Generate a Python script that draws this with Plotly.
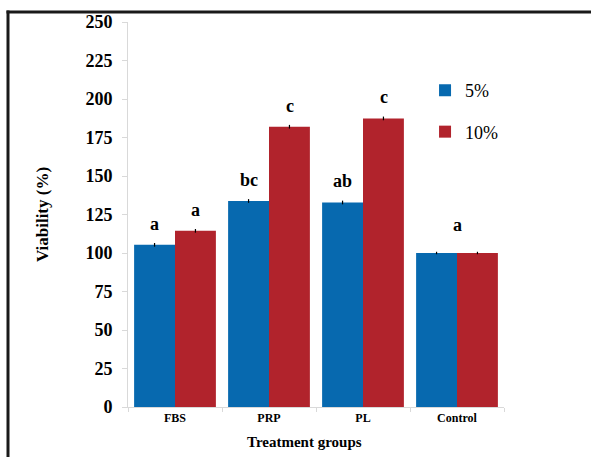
import plotly.graph_objects as go

# Viability of cells cultured with different supplements
groups = ["FBS", "PRP", "PL", "Control"]
viability_5 = [105.3, 133.8, 132.8, 100.0]
viability_10 = [114.4, 182.0, 187.4, 100.0]
err_5 = [1.2, 1.2, 1.2, 0.8]
err_10 = [1.2, 1.2, 1.2, 0.8]
letters_5 = ["a", "bc", "ab", ""]
letters_10 = ["a", "c", "c", ""]
control_letter = "a"
y_ticks = [0, 25, 50, 75, 100, 125, 150, 175, 200, 225, 250]

BLUE = "#0769AF"
RED = "#B1232C"
SERIF = "Liberation Serif"

fig = go.Figure()
fig.add_trace(go.Bar(
    x=groups, y=viability_5, name="5%", legendgroup="g5",
    marker=dict(color=BLUE, line=dict(width=0)),
    error_y=dict(type="data", array=err_5, color="black", thickness=1.2, width=0),
))
fig.add_trace(go.Bar(
    x=groups, y=viability_10, name="10%", legendgroup="g10",
    marker=dict(color=RED, line=dict(width=0)),
    error_y=dict(type="data", array=err_10, color="black", thickness=1.2, width=0),
))

letter_font = dict(family=SERIF, size=18, color="black", weight="bold")

# significance letters above each bar
annotations = []
offset_px = 20.5
for g, v, lab in zip(groups, viability_5, letters_5):
    if lab:
        annotations.append(dict(x=g, y=v, text=lab, xshift=-offset_px, yshift=9,
                                showarrow=False, yanchor="bottom", font=letter_font))
for g, v, lab in zip(groups, viability_10, letters_10):
    if lab:
        annotations.append(dict(x=g, y=v, text=lab, xshift=offset_px, yshift=9,
                                showarrow=False, yanchor="bottom", font=letter_font))
annotations.append(dict(x=groups[3], y=max(viability_5[3], viability_10[3]),
                        text=control_letter,
                        yshift=16, showarrow=False, yanchor="bottom", font=letter_font))

# x axis title
annotations.append(dict(x=0.47, y=-0.065, xref="paper", yref="paper", text="Treatment groups",
                        showarrow=False, xanchor="center", yanchor="top",
                        font=dict(family=SERIF, size=15, color="black", weight="bold")))

# frame lines on the top and left edge of the page
L, T, B, R = 128, 20, 50, 87
W, H = 591, 457
pw, ph = W - L - R, H - T - B
def px_x(p):
    return (p - L) / pw
def px_y(p):
    return (H - B - p) / ph

shapes = [
    dict(type="line", xref="paper", yref="paper", x0=px_x(6.5), x1=px_x(595),
         y0=px_y(10), y1=px_y(10), line=dict(color="#1a1a1a", width=3)),
    dict(type="line", xref="paper", yref="paper", x0=px_x(8), x1=px_x(8),
         y0=px_y(8.5), y1=px_y(470), line=dict(color="#1a1a1a", width=3)),
]

fig.update_layout(
    width=W, height=H,
    margin=dict(l=L, r=R, t=T, b=B),
    font=dict(family=SERIF, color="black"),
    paper_bgcolor="white", plot_bgcolor="white",
    barmode="group", bargap=0.13, bargroupgap=0,
    showlegend=True,
    legend=dict(x=0.79, y=0.87, xanchor="left", yanchor="top",
                font=dict(family=SERIF, size=18, color="black"),
                traceorder="grouped", tracegroupgap=15,
                bgcolor="rgba(0,0,0,0)", itemwidth=30),
    annotations=annotations,
    shapes=shapes,
    xaxis=dict(
        type="category", range=[-0.5, 3.5],
        showline=True, linecolor="#d9d9d9", linewidth=1,
        ticks="outside", tickson="boundaries", ticklen=4, tickcolor="#d9d9d9",
        tickfont=dict(family=SERIF, size=12, color="black", weight="bold"),
        showgrid=False, zeroline=False,
    ),
    yaxis=dict(
        range=[0, 250], tickvals=y_ticks,
        showline=True, linecolor="#d9d9d9", linewidth=1,
        ticks="outside", ticklen=5, tickcolor="#d9d9d9",
        tickfont=dict(family=SERIF, size=18, color="black", weight="bold"),
        ticklabelstandoff=6,
        showgrid=False, zeroline=False,
        title=dict(text="Viability (%)", standoff=32,
                   font=dict(family=SERIF, size=17, color="black", weight="bold")),
    ),
)

fig.write_html("out.html")
